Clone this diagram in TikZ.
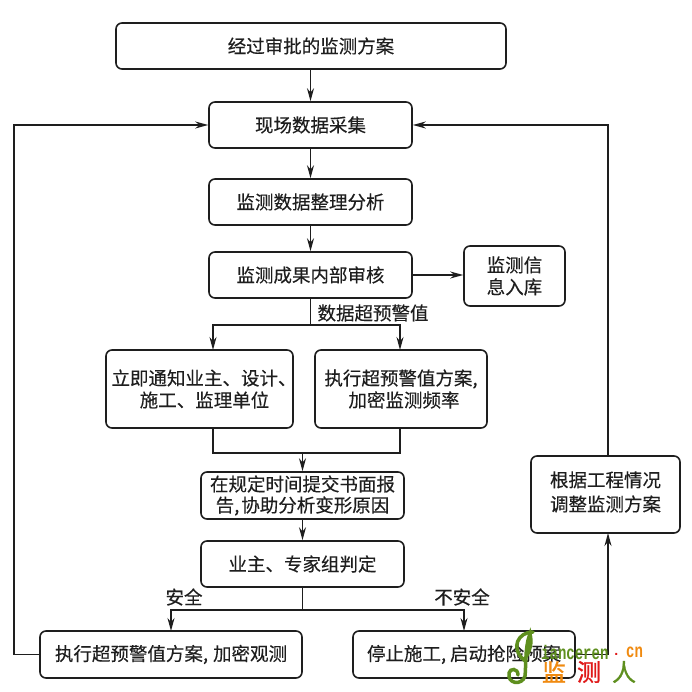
\documentclass[tikz,border=0pt]{standalone}
\usepackage{fontspec}
\usepackage{graphicx}
\setmainfont{Noto Sans CJK SC}[FakeBold=0.25]
\newfontfamily\wmfont{Liberation Mono}
\newfontfamily\wmcjk{Noto Sans CJK SC}[FakeBold=1.2]
\usetikzlibrary{arrows.meta,positioning,calc}
\XeTeXlinebreaklocale "zh"
\definecolor{ink}{HTML}{1E1E1E}
\definecolor{wmgreen}{HTML}{5E8F1E}
\definecolor{wmorange}{HTML}{F08A10}
\definecolor{wmred}{HTML}{E01818}
\tikzset{
 x=1pt,y=-1pt,
 bx/.style={draw=ink,line width=1.6pt,rounded corners=6pt,inner sep=0pt,align=center,text=ink,font=\fontsize{18.5}{22}\selectfont},
 ln/.style={draw=ink,line width=1.4pt},
 ar/.style={ln,-{Stealth[length=13pt,width=7pt]}},
 lb/.style={inner sep=0pt,text=ink,font=\fontsize{18.5}{22}\selectfont},
 wmt/.style={inner sep=0pt,font=\wmfont\bfseries\fontsize{14}{14}\selectfont,anchor=west},
 wmc/.style={inner sep=0pt,font=\wmcjk\fontsize{24}{24}\selectfont},
}
\newcommand{\bxn}[6]{\node[bx,minimum width=#4-#2 pt,minimum height=#5-#3 pt] (#1) at ({(#2+#4)/2},{(#3+#5)/2}) {#6};}
\begin{document}
\begin{tikzpicture}
\useasboundingbox (0,0) rectangle (692,692);
\fill[white] (0,0) rectangle (692,692);
\bxn{a}{116}{23}{506}{69}{经过审批的监测方案}
\bxn{b}{209}{102}{412}{148}{现场数据采集}
\bxn{c}{209}{179}{412}{225}{监测数据整理分析}
\bxn{d}{209}{252}{412}{298}{监测成果内部审核}
\bxn{e}{464}{246}{565}{306}{监测信\\息入库}
\bxn{f}{106}{350}{293}{428}{\hspace{4pt}\makebox[180pt][l]{立即通知业主、设计、}\\\hspace{10pt}施工、监理单位}
\bxn{g}{315}{350}{487}{428}{执行超预警值方案,\\\hspace{6pt}加密监测频率}
\bxn{h}{201}{472}{404}{519}{在规定时间提交书面报\\[-1pt]告,\hspace{2pt}协助分析变形原因}
\bxn{i}{201}{541}{404}{587}{业主、专家组判定}
\bxn{j}{40}{631}{302}{678}{执行超预警值方案,\hspace{5pt}加密观测}
\bxn{k}{353}{631}{575}{678}{停止施工,\hspace{4pt}启动抢险预案}
\bxn{l}{531}{456}{680}{533}{\raisebox{4pt}{\begin{tabular}{@{}c@{}}根据工程情况\\[2pt]调整监测方案\end{tabular}}}
\coordinate (dj) at (310.5,325);
\coordinate (fa) at (213,350);
\coordinate (ga) at (400,350);
\coordinate (fo) at (213,428);
\coordinate (go) at (400,428);
\coordinate (hj) at (302.5,453);
\coordinate (ij) at (302.5,610);
\coordinate (ja) at (171,631);
\coordinate (ka) at (464,631);
\coordinate (lt) at (608,456);
\coordinate (lb) at (608,533);
\coordinate (jw) at (14,654.5);
\draw[ar] (a.south -| b) -- (b.north);
\draw[ar] (b) -- (c);
\draw[ar] (c) -- (d);
\draw[ar] (d.east) -- (d.east -| e.west);
\draw[ln] (d.south) -- (dj);
\draw[ar] (dj) -| (fa);
\draw[ar] (dj) -| (ga);
\draw[ln] (fo) |- (hj);
\draw[ln] (go) |- (hj);
\draw[ar] (hj) -- (h.north -| hj);
\draw[ar] (h.south) -- (i.north);
\draw[ln] (i.south) -- (ij);
\draw[ar] (ij) -| (ja);
\draw[ar] (ij) -| (ka);
\draw[ar] (j.west) -- (jw) |- (b.west);
\draw[ar] (k.east) -| (lb);
\draw[ar] (lt) |- (b.east);
\node[lb] (t1) at (373,313) {数据超预警值};
\node[lb] (t2) at (184,597) {安全};
\node[lb] (t3) at (462,597) {不安全};
% watermark
\draw[wmgreen,line width=3.5pt,line cap=round] (533,632) .. controls (518,632) and (510,648) .. (524,660) .. controls (531,650) and (532,642) .. (530,634) .. controls (525,645) and (526,668) .. (525,676) .. controls (522,686) and (507,684) .. (509,673) .. controls (510,668) and (518,668) .. (518,675);
\node[wmt,text=wmgreen] (w1) at (541,652) {\scalebox{1}[1.4]{ianceren}};
\node[wmt,text=wmred] (w2) at (612,654) {.};
\node[wmt,text=wmorange] (w3) at (626,652) {\scalebox{1}[1.4]{cn}};
\node[wmc,text=wmorange] (w4) at (554,672) {监};
\node[wmc,text=wmred] (w5) at (589,672) {测};
\node[wmc,text=wmgreen] (w6) at (624,672) {人};
\end{tikzpicture}
\end{document}
